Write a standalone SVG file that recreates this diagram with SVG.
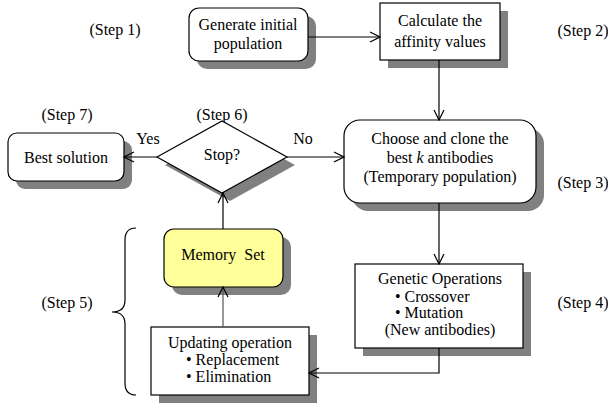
<svg xmlns="http://www.w3.org/2000/svg" width="608" height="403" viewBox="0 0 608 403">
  <style>
    text { font-family: 'Liberation Serif', 'Times New Roman', serif; font-size: 16px; fill: #000; }
    .c { text-anchor: middle; }
    .box { fill: #fff; stroke: #000; stroke-width: 1.2; }
    .shadow { fill: #808080; stroke: none; }
    .link { fill: none; stroke: #000; stroke-width: 1.2; }
  </style>
  <defs>
    <marker id="open" viewBox="0 0 12 12" refX="11" refY="6" markerWidth="12" markerHeight="12" markerUnits="userSpaceOnUse" orient="auto">
      <path d="M1,1 L11,6 L1,11" fill="none" stroke="#000" stroke-width="1.2"/>
    </marker>
  </defs>
  <rect width="608" height="403" fill="#fff"/>

  <!-- step labels -->
  <g id="steps">
    <text class="c" x="115" y="35">(Step 1)</text>
    <text class="c" x="583" y="36">(Step 2)</text>
    <text class="c" x="583" y="188">(Step 3)</text>
    <text class="c" x="583" y="308">(Step 4)</text>
    <text class="c" x="67" y="308">(Step 5)</text>
    <text class="c" x="222" y="120">(Step 6)</text>
    <text class="c" x="67" y="120">(Step 7)</text>
  </g>

  <g id="generate">
    <rect class="shadow" x="197" y="16" width="119" height="53" rx="10"/>
    <rect class="box" x="189" y="8" width="119" height="53" rx="10"/>
    <text class="c" x="248" y="30">Generate initial</text>
    <text class="c" x="248" y="49">population</text>
  </g>

  <g id="affinity">
    <rect class="shadow" x="388" y="11" width="120" height="57"/>
    <rect class="box" x="380" y="3" width="120" height="57"/>
    <text class="c" x="440" y="26">Calculate the</text>
    <text class="c" x="440" y="47">affinity values</text>
  </g>

  <g id="clone">
    <rect class="shadow" x="352" y="128" width="192" height="83" rx="16"/>
    <rect class="box" x="344" y="120" width="192" height="83" rx="16"/>
    <text class="c" x="440" y="144">Choose and clone the</text>
    <text class="c" x="440" y="163">best <tspan font-style="italic">k</tspan> antibodies</text>
    <text class="c" x="440" y="182">(Temporary population)</text>
  </g>

  <g id="best">
    <rect class="shadow" x="16" y="141" width="116" height="48" rx="9"/>
    <rect class="box" x="8" y="133" width="116" height="48" rx="9"/>
    <text class="c" x="66" y="163">Best solution</text>
  </g>

  <g id="stop">
    <polygon class="shadow" points="165,165 230,129 295,165 230,201"/>
    <polygon class="box" points="157,157 222,121 287,157 222,193"/>
    <text class="c" x="222" y="160">Stop?</text>
  </g>

  <g id="memory">
    <rect class="shadow" x="172" y="237" width="119" height="58" rx="10"/>
    <rect class="box" x="164" y="229" width="119" height="58" rx="10" style="fill:#ffff99"/>
    <text class="c" x="223" y="260" xml:space="preserve">Memory  Set</text>
  </g>

  <g id="genetic">
    <rect class="shadow" x="363" y="272" width="168" height="84"/>
    <rect class="box" x="355" y="264" width="168" height="84"/>
    <text class="c" x="440" y="284">Genetic Operations</text>
    <text x="395" y="302">• Crossover</text>
    <text x="395" y="318">• Mutation</text>
    <text class="c" x="440" y="335">(New antibodies)</text>
  </g>

  <g id="updating">
    <rect class="shadow" x="159" y="335" width="158" height="68"/>
    <rect class="box" x="151" y="327" width="158" height="68"/>
    <text class="c" x="230" y="348">Updating operation</text>
    <text x="186" y="365">• Replacement</text>
    <text x="186" y="382">• Elimination</text>
  </g>

  <g id="brace">
    <path class="link" d="M136,228 Q125,228 125,240 V300 Q125,312 112,312 Q125,312 125,324 V383 Q125,395 136,395"/>
  </g>

  <g id="connectors">
    <path class="link" d="M308,37 H380" marker-end="url(#open)"/>
    <path class="link" d="M439,60 V120" marker-end="url(#open)"/>
    <path class="link" d="M157,157 H124" marker-end="url(#open)"/>
    <path class="link" d="M287,157 H344" marker-end="url(#open)"/>
    <path class="link" d="M223,229 V193" marker-end="url(#open)"/>
    <path class="link" d="M223,327 V287" style="stroke:#555" marker-end="url(#open)"/>
    <path class="link" d="M439,203 V264" marker-end="url(#open)"/>
    <path class="link" d="M439,348 V373 H309" marker-end="url(#open)"/>
    <text class="c" x="148" y="144">Yes</text>
    <text class="c" x="303" y="144">No</text>
  </g>
</svg>
